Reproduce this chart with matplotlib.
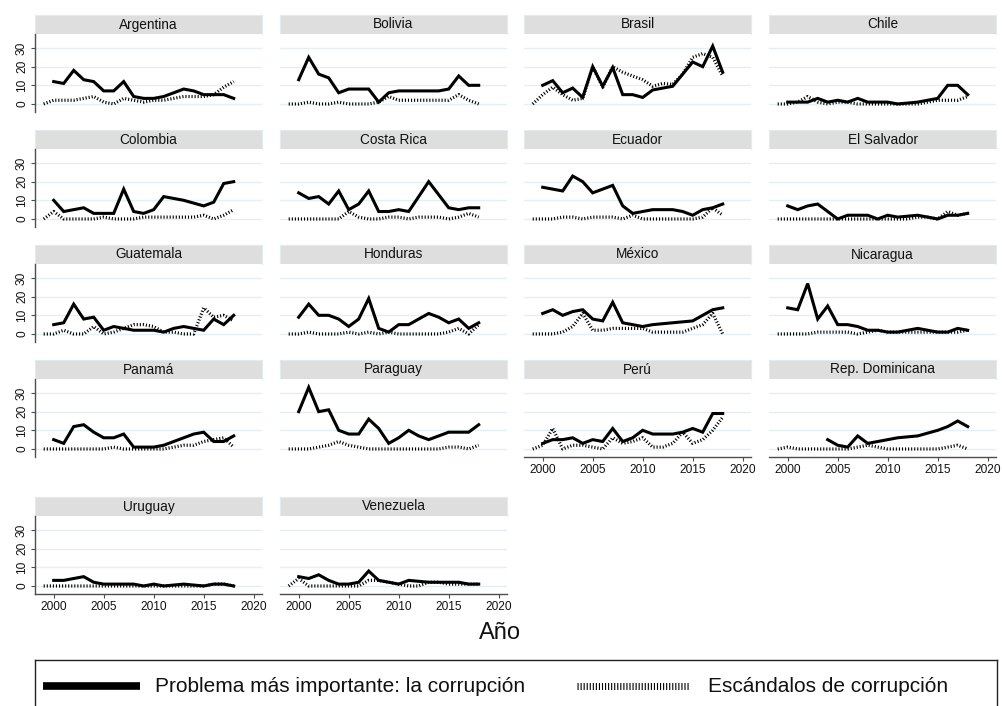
import numpy as np
import matplotlib
matplotlib.use("Agg")
import matplotlib.pyplot as plt
from matplotlib.lines import Line2D

plt.rcParams['font.family'] = ['Liberation Sans', 'DejaVu Sans']
plt.rcParams['lines.scale_dashes'] = False

# ---------------- data ----------------
years_prob = list(range(2000, 2019))
years_esc = list(range(1999, 2019))
nan = np.nan

countries = ["Argentina", "Bolivia", "Brasil", "Chile", "Colombia", "Costa Rica",
             "Ecuador", "El Salvador", "Guatemala", "Honduras", "México", "Nicaragua",
             "Panamá", "Paraguay", "Perú", "Rep. Dominicana", "Uruguay", "Venezuela"]

# "Problema más importante: la corrupción" (2000-2018)
prob_argentina = [12, 11, 18, 13, 12, 7, 7, 12, 4, 3, 3, 4, 6, 8, 7, 5, 5, 5, 3]
prob_bolivia = [13, 25, 16, 14, 6, 8, 8, 8, 1, 6, 7, 7, 7, 7, 7, 8, 15, 10, 10]
prob_brasil = [10, 12.5, 6, 8.5, 3.5, 20, 9.5, 19.5, 5, 5, 3.5, 7.5, 8.5, 9.5, 16, 22.5, 20, 31, 17]
prob_chile = [1, 1, 1, 3, 1, 2, 1, 3, 1, 1, 1, 0, 0.5, 1, 2, 3, 10, 10, 5]
prob_colombia = [10, 4, 5, 6, 3, 3, 3, 16, 4, 3, 5, 12, 11, 10, 8.5, 7, 9, 19, 20]
prob_costarica = [14, 11, 12, 8, 15, 5, 8, 15, 4, 4, 5, 4, 12, 20, 13, 6, 5, 6, 6]
prob_ecuador = [17, 16, 15, 23, 20, 14, 16, 18, 7, 3, 4, 5, 5, 5, 4, 2, 5, 6, 8]
prob_elsalvador = [7, 5, 7, 8, 4, 0, 2, 2, 2, 0, 2, 1, 1.5, 2, 1, 0, 2, 2, 3]
prob_guatemala = [5, 6, 16, 8, 9, 2, 4, 3, 2, 2, 2, 1, 3, 4, 3, 2, 8, 5, 10]
prob_honduras = [9, 16, 10, 10, 8, 4, 8, 19, 3, 1, 5, 5, 8, 11, 9, 6, 8, 3, 6]
prob_mexico = [11, 13, 10, 12, 13, 8, 7, 17, 6, 5, 4, 5, 5.5, 6, 6.5, 7, 10, 13, 14]
prob_nicaragua = [14, 13, 27, 8, 15, 5, 5, 4, 2, 2, 1, 1, 2, 3, 2, 1, 1, 3, 2]
prob_panama = [5, 3, 12, 13, 9, 6, 6, 8, 1, 1, 1, 2, 4, 6, 8, 9, 4, 4, 7]
prob_paraguay = [20, 33, 20, 21, 10, 8, 8, 16, 11, 3, 6, 10, 7, 5, 7, 9, 9, 9, 13]
prob_peru = [3, 5, 5, 6, 3, 5, 4, 11, 4, 6, 10, 8, 8, 8, 9, 11, 9, 19, 19]
prob_repdom = [nan, nan, nan, nan, 5, 2, 1, 7, 3, 4, 5, 6, 6.5, 7, 8.5, 10, 12, 15, 12]
prob_uruguay = [3, 3, 4, 5, 2, 1, 1, 1, 1, 0, 1, 0, 0.5, 1, 0.5, 0, 1, 1, 0]
prob_venezuela = [5, 4, 6, 3, 1, 1, 2, 8, 3, 2, 1, 3, 2.5, 2, 2, 2, 2, 1, 1]

# "Escándalos de corrupción" (1999-2018)
esc_argentina = [0, 2, 2, 2, 3, 4, 1, 0, 3, 2, 1, 2, 2, 3, 4, 4, 4, 5, 9, 12]
esc_bolivia = [0, 0, 1, 0, 0, 1, 0, 0, 0, 1, 4, 2, 2, 2, 2, 2, 2, 5, 2, 0]
esc_brasil = [0, 5, 9, 5, 2, 3, 20, 9, 20, 17, 15, 13, 9.5, 11, 10.5, 16, 25, 27, 25, 15]
esc_chile = [0, 0, 1, 4, 1, 0, 1, 1, 0, 0, 0, 0, 0, 0, 0, 1, 2, 2, 2, 4]
esc_colombia = [0, 4, 0, 0, 0, 0, 1, 0, 0, 0, 1, 1, 1, 1, 1, 1, 2, 0, 2, 5]
esc_costarica = [0, 0, 0, 0, 0, 0, 4, 1, 0, 0, 1, 1, 0, 1, 1, 1, 0, 1, 3, 1]
esc_ecuador = [0, 0, 0, 1, 1, 0, 1, 1, 1, 0, 2, 0, 0, 0, 0, 0, 0, 1, 6, 2]
esc_elsalvador = [0, 0, 0, 0, 0, 0, 0, 0, 0, 0, 0, 0, 0, 0, 1, 1, 0, 4, 2, 3]
esc_guatemala = [0, 0, 2, 0, 0, 4, 0, 1, 3, 5, 5, 4, 1, 1, 0, 0, 14, 9, 10, 7]
esc_honduras = [0, 0, 1, 0, 0, 0, 1, 0, 1, 0, 1, 0, 0, 0, 0, 0, 1, 3, 0, 5]
esc_mexico = [0, 0, 0, 1, 4, 11, 2, 2, 3, 3, 3, 3, 1, 1, 1, 1, 3, 5, 11, 0]
esc_nicaragua = [0, 0, 0, 0, 1, 1, 1, 1, 0, 1, 2, 1, 1, 1, 1, 1, 1, 1, 1, 2]
esc_panama = [0, 0, 0, 0, 0, 0, 0, 1, 0, 0, 0, 0, 0, 1, 2, 2, 4, 5, 6, 1]
esc_paraguay = [0, 0, 0, 1, 2, 4, 2, 1, 0, 0, 0, 0, 0, 0, 0, 0, 1, 1, 0, 2]
esc_peru = [0, 2, 11, 0, 2, 2, 1, 0, 6, 3, 4, 6, 1, 1, 3, 9, 3, 5, 10, 17]
esc_repdom = [0, 1, 0, 0, 0, 0, 0, 0, 1, 2, 1, 0, 0, 0, 0, 0, 0, 1, 2, 0]
esc_uruguay = [0, 0, 0, 0, 0, 0, 0, 0, 0, 0, 0, 0, 0, 0, 0, 0, 0, 1, 1, 0]
esc_venezuela = [0, 4, 0, 0, 0, 0, 0, 0, 3, 3, 2, 1, 0, 0, 2, 2, 1, 1, 1, 1]

prob_series = [prob_argentina, prob_bolivia, prob_brasil, prob_chile, prob_colombia,
               prob_costarica, prob_ecuador, prob_elsalvador, prob_guatemala, prob_honduras,
               prob_mexico, prob_nicaragua, prob_panama, prob_paraguay, prob_peru,
               prob_repdom, prob_uruguay, prob_venezuela]
esc_series = [esc_argentina, esc_bolivia, esc_brasil, esc_chile, esc_colombia,
              esc_costarica, esc_ecuador, esc_elsalvador, esc_guatemala, esc_honduras,
              esc_mexico, esc_nicaragua, esc_panama, esc_paraguay, esc_peru,
              esc_repdom, esc_uruguay, esc_venezuela]

y_ticks = [0, 10, 20, 30]
x_ticks = [2000, 2005, 2010, 2015, 2020]
label_prob = "Problema más importante: la corrupción"
label_esc = "Escándalos de corrupción"
x_title = "Año"

# ---------------- layout ----------------
W, H = 1003, 706
fig = plt.figure(figsize=(W / 100, H / 100), dpi=100)
fig.patch.set_facecolor('white')

col_x = [35, 280, 524, 769]
panel_w = 227
row_top = [15, 130, 245, 360, 497]
strip_h = 19
plot_h = 78

axis_col = '#4d4d4d'
grid_col = '#e5eef0'
strip_col = '#dedede'
DOT = (0, (0.8, 1.4))

n = len(countries)
for i, name in enumerate(countries):
    r, c = divmod(i, 4)
    x0 = col_x[c]
    top = row_top[r]
    # strip
    axs = fig.add_axes([x0 / W, 1 - (top + strip_h) / H, panel_w / W, strip_h / H])
    axs.set_facecolor(strip_col)
    axs.set_xticks([]); axs.set_yticks([])
    for sp in axs.spines.values():
        sp.set_color('#e4ebee'); sp.set_linewidth(0.8)
    axs.text(0.5, 0.5, name, ha='center', va='center', fontsize=9.8,
             color='#111111', transform=axs.transAxes)
    # plot
    ax = fig.add_axes([x0 / W, 1 - (top + strip_h + plot_h) / H, panel_w / W, plot_h / H])
    ax.set_xlim(1998.13, 2020.83)
    ax.set_ylim(-4.3, 37.5)
    ax.set_yticks(y_ticks)
    ax.set_xticks(x_ticks)
    ax.yaxis.grid(True, color=grid_col, linewidth=1.0)
    ax.xaxis.grid(False)
    ax.set_axisbelow(True)
    for sp in ax.spines.values():
        sp.set_visible(False)

    ax.plot(years_prob, prob_series[i], color='black', linewidth=2.2,
            solid_joinstyle='miter', zorder=3)
    ax.plot(years_esc, esc_series[i], color='black', linewidth=2.3,
            linestyle=DOT, dash_capstyle='butt', zorder=4)

    if c == 0:
        ax.spines['left'].set_visible(True)
        ax.spines['left'].set_color(axis_col)
        ax.spines['left'].set_linewidth(1.0)
        ax.tick_params(axis='y', direction='out', length=3, width=0.8, color=axis_col,
                       labelsize=8.6, pad=2, labelcolor='#111111')
        for lab in ax.get_yticklabels():
            lab.set_rotation(90)
            lab.set_va('center')
            lab.set_ha('right')
    else:
        ax.tick_params(axis='y', left=False, labelleft=False)

    if i + 4 >= n:
        ax.spines['bottom'].set_visible(True)
        ax.spines['bottom'].set_color(axis_col)
        ax.spines['bottom'].set_linewidth(1.0)
        ax.tick_params(axis='x', direction='out', length=3, width=0.8, color=axis_col,
                       labelsize=8.6, pad=2, labelcolor='#111111')
    else:
        ax.tick_params(axis='x', bottom=False, labelbottom=False)

fig.text(500 / W, 1 - 633 / H, x_title, ha='center', va='center', fontsize=17,
         color='#111111')

# ---------------- legend ----------------
lax = fig.add_axes([35 / W, -14 / H, 962 / W, 60 / H])
lax.set_xlim(0, 962)
lax.set_ylim(0, 60)
lax.set_xticks([]); lax.set_yticks([])
lax.patch.set_alpha(0)
for k, sp in lax.spines.items():
    sp.set_color('#222222'); sp.set_linewidth(1.0)
lax.spines['bottom'].set_visible(False)
lax.add_line(Line2D([8, 105], [34, 34], color='black', linewidth=5.5,
                    solid_capstyle='butt'))
lax.text(120, 34, label_prob, ha='left', va='center', fontsize=15, color='#111111')
lax.add_line(Line2D([542, 655], [34, 34], color='black', linewidth=5,
                    linestyle=(0, (0.8, 1.4)), dash_capstyle='butt'))
lax.text(673, 34, label_esc, ha='left', va='center', fontsize=15, color='#111111')

fig.savefig('out.png', dpi=100, facecolor='white')
